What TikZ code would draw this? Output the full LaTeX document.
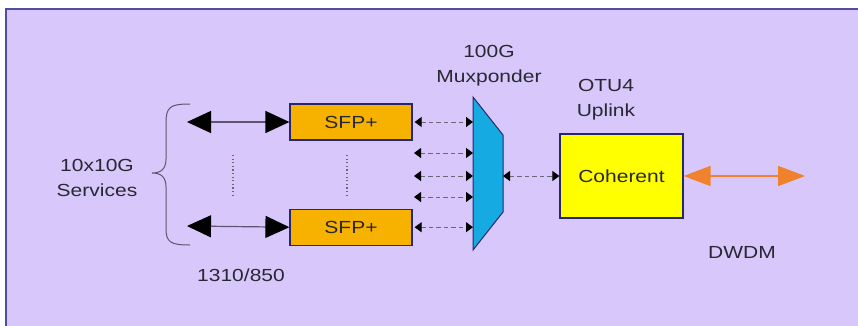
\documentclass[tikz,border=0pt]{standalone}
\usepackage{fontspec}
\setmainfont[FakeStretch=1.2]{Liberation Sans}
\usetikzlibrary{arrows.meta, positioning}

\definecolor{lav}{RGB}{216,199,250}
\definecolor{frame}{RGB}{80,78,160}
\definecolor{edge}{RGB}{40,38,110}
\definecolor{sfp}{RGB}{247,178,0}
\definecolor{coh}{RGB}{255,255,0}
\definecolor{mux}{RGB}{22,170,226}
\definecolor{orng}{RGB}{240,130,45}
\definecolor{txt}{RGB}{40,40,50}
\definecolor{linegray}{RGB}{95,85,110}
\definecolor{dashgray}{RGB}{110,100,120}

\begin{document}
\begin{tikzpicture}[x=1pt, y=1pt, font=\fontsize{17.5}{25}\selectfont, text=txt,
    box/.style={draw=edge, line width=1.2pt, minimum width=122pt, minimum height=36pt, inner sep=0pt},
    big/.style={{Triangle[length=24pt,width=22pt,color=black]}-{Triangle[length=24pt,width=22pt,color=black]}, line width=1.2pt, draw=linegray},
    small/.style={{Triangle[length=7pt,width=10pt,color=black]}-{Triangle[length=7pt,width=10pt,color=black]}, dash pattern=on 4.5pt off 3pt, draw=dashgray, line width=1pt},
    wdm/.style={{Triangle[length=27pt,width=20pt]}-{Triangle[length=27pt,width=20pt]}, line width=1.6pt, draw=orng},
    dots/.style={draw=dashgray, line width=1.2pt, dash pattern=on 1.2pt off 2.4pt}]
  \clip (0,0) rectangle (858,325);
  \draw[fill=lav, draw=frame, line width=2pt] (6,-20) rectangle (880,316);

  % tributaries
  \node[box, fill=sfp] (sfp1) at (351,203) {SFP+};
  \node[box, fill=sfp] (sfp2) [below=68pt of sfp1] {SFP+};
  \coordinate (c1) at (187,203);
  \coordinate (c2) at (187,99);
  \draw[big] (c1) -- (sfp1.west);
  \draw[big] (c2) -- (sfp2.west);
  \draw[dots] (233,170) -- (233,127);
  \draw[dots] (347,170) -- (347,127);

  \draw[draw=linegray, line width=1pt] (190,221) .. controls (170,221) and (166,218) .. (166,202)
    -- (166,166) .. controls (166,156) and (161,152) .. (152,152)
    .. controls (161,152) and (166,148) .. (166,138) -- (166,97)
    .. controls (166,83) and (170,80) .. (190,80);
  \node[align=center] (svc) at (97,147) {10x10G\\Services};
  \node (nm) at (241,50) {1310/850};

  % muxponder
  \draw[fill=mux, draw=edge, line width=1pt] (473,228) coordinate (mtl) -- (503,190) -- (503,113) -- (473,75) -- cycle;
  \coordinate (mr) at (503,149);
  \node[align=center] (mxl) at (489,259) {100G\\Muxponder};
  \draw[small] ([xshift=2pt]sfp1.east) -- (sfp1.east -| mtl);
  \draw[small] ([xshift=2pt]sfp2.east) -- (sfp2.east -| mtl);
  \foreach \y [count=\i] in {172,149,128} {
    \coordinate (m\i) at (414,\y);
    \draw[small] (m\i) -- (m\i -| mtl);
  }

  % uplink
  \node[box, fill=coh, minimum width=123pt, minimum height=84pt] (cohr) at (621.5,149) {Coherent};
  \node[align=center] (otu) at (606,225.5) {OTU4\\Uplink};
  \draw[small] (mr) -- (cohr.west);
  \coordinate (dw) at (805,149);
  \draw[wdm] (cohr.east) -- (dw);
  \node (dwdm) at (742,73) {DWDM};
\end{tikzpicture}
\end{document}
